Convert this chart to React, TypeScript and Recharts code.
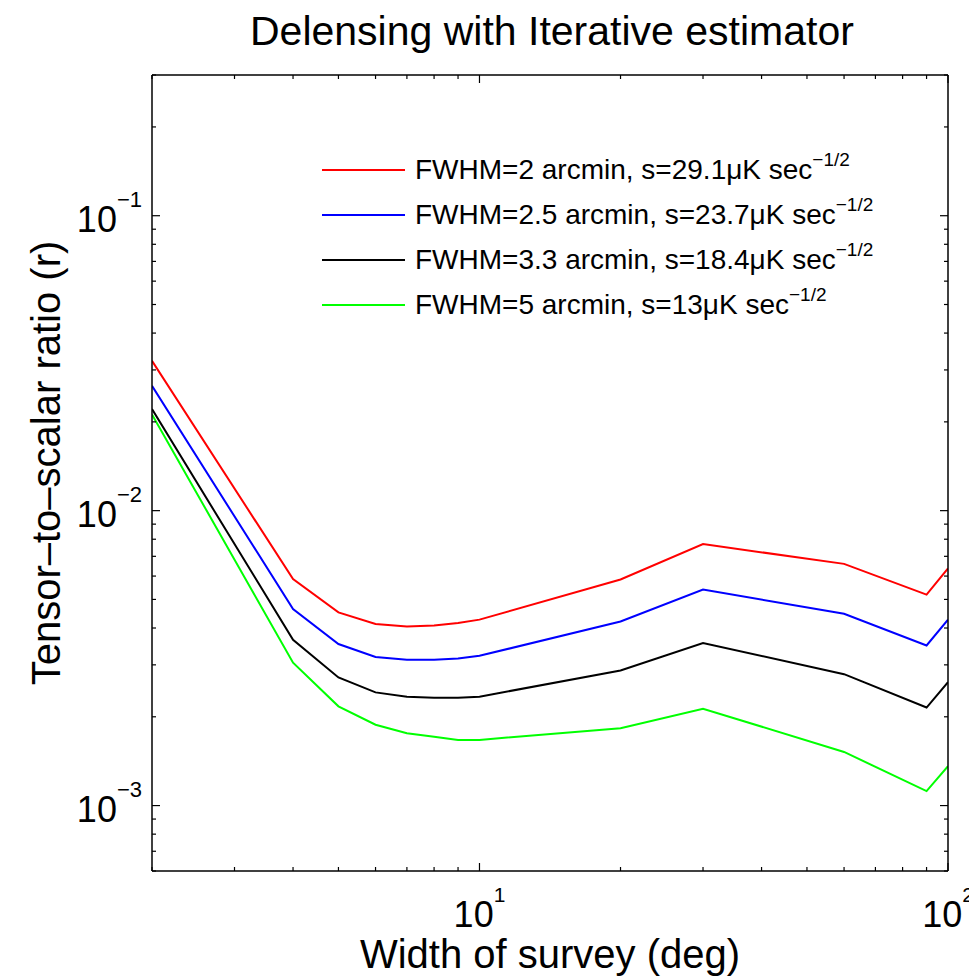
import React from "react";
import { LineChart, Line, XAxis, YAxis, Legend } from "recharts";

// survey width (deg) sampled by every curve
const surveyWidths = [2, 4, 5, 6, 7, 8, 9, 10, 20, 30, 60, 90, 100];

// tensor-to-scalar ratio
const rFwhm2 = [0.0322, 0.00586, 0.00452, 0.00413, 0.00405, 0.00408, 0.00416, 0.00427, 0.00584, 0.0077, 0.0066, 0.00519, 0.00637];
const rFwhm25 = [0.0265, 0.00464, 0.00353, 0.00319, 0.00312, 0.00312, 0.00315, 0.00322, 0.00421, 0.0054, 0.00447, 0.00349, 0.00427];
const rFwhm33 = [0.0221, 0.00365, 0.00272, 0.00242, 0.00234, 0.00232, 0.00232, 0.00234, 0.00287, 0.00356, 0.00279, 0.00215, 0.00262];
const rFwhm5 = [0.0212, 0.00305, 0.00217, 0.00188, 0.00176, 0.00171, 0.00167, 0.00167, 0.00183, 0.00213, 0.00152, 0.00112, 0.00136];

const seriesKeys = ["fwhm2", "fwhm25", "fwhm33", "fwhm5"];
const seriesColors = ["#ff0000", "#0000ff", "#000000", "#00ff00"];
const seriesLabels = [
  "FWHM=2 arcmin, s=29.1μK sec",
  "FWHM=2.5 arcmin, s=23.7μK sec",
  "FWHM=3.3 arcmin, s=18.4μK sec",
  "FWHM=5 arcmin, s=13μK sec",
];

const xTicks = [2, 3, 4, 5, 6, 7, 8, 9, 10, 20, 30, 40, 50, 60, 70, 80, 90, 100];
const xMajor = [10, 100];
const yTicks = [
  0.0006, 0.0007, 0.0008, 0.0009, 0.001, 0.002, 0.003, 0.004, 0.005, 0.006, 0.007, 0.008, 0.009,
  0.01, 0.02, 0.03, 0.04, 0.05, 0.06, 0.07, 0.08, 0.09, 0.1, 0.2, 0.3,
];
const yMajor = [0.001, 0.01, 0.1];

const rows = surveyWidths.map((w, i) => ({
  w,
  fwhm2: rFwhm2[i],
  fwhm25: rFwhm25[i],
  fwhm33: rFwhm33[i],
  fwhm5: rFwhm5[i],
}));

const FONT = '"Liberation Sans", Arial, Helvetica, sans-serif';

function expText(v: number) {
  const e = Math.round(Math.log10(v));
  return e < 0 ? `−${-e}` : `${e}`;
}

function BottomTick({ x, y, payload }: any) {
  const major = xMajor.includes(payload.value);
  return (
    <g>
      <line x1={x} y1={y} x2={x} y2={y - (major ? 8 : 4)} stroke="#000" strokeWidth={1.2} />
      {major && (
        <text x={x} y={y + 56} textAnchor="middle" fontSize={36} fontFamily={FONT} fill="#000">
          10
          <tspan dy={-25} fontSize={21}>
            {expText(payload.value)}
          </tspan>
        </text>
      )}
    </g>
  );
}

function TopTick({ x, y, payload }: any) {
  const major = xMajor.includes(payload.value);
  return <line x1={x} y1={y} x2={x} y2={y + (major ? 8 : 4)} stroke="#000" strokeWidth={1.2} />;
}

function LeftTick({ x, y, payload }: any) {
  const major = yMajor.includes(payload.value);
  return (
    <g>
      <line x1={x} y1={y} x2={x + (major ? 8 : 4)} y2={y} stroke="#000" strokeWidth={1.2} />
      {major && (
        <text x={x - 10} y={y + 16} textAnchor="end" fontSize={36} fontFamily={FONT} fill="#000">
          10
          <tspan dy={-25} fontSize={22}>
            {expText(payload.value)}
          </tspan>
        </text>
      )}
    </g>
  );
}

function RightTick({ x, y, payload }: any) {
  const major = yMajor.includes(payload.value);
  return <line x1={x} y1={y} x2={x - (major ? 8 : 4)} y2={y} stroke="#000" strokeWidth={1.2} />;
}

function LegendBox() {
  return (
    <div style={{ fontFamily: FONT, color: "#000" }}>
      {seriesLabels.map((label, i) => (
        <div key={label} style={{ display: "flex", alignItems: "center", height: 45 }}>
          <svg width={83} height={4} style={{ display: "block" }}>
            <line x1={0} y1={2} x2={83} y2={2} stroke={seriesColors[i]} strokeWidth={2} />
          </svg>
          <span style={{ marginLeft: 10, fontSize: 28, lineHeight: 1, whiteSpace: "nowrap" }}>
            {label}
            <span style={{ fontSize: 19, position: "relative", top: -13 }}>−1/2</span>
          </span>
        </div>
      ))}
    </div>
  );
}

const axisLine = { stroke: "#000", strokeWidth: 1.5 };

export default function App() {
  return (
    <div
      style={{
        position: "absolute",
        left: 0,
        top: 0,
        width: 969,
        height: 978,
        background: "#fff",
        fontFamily: FONT,
        overflow: "hidden",
      }}
    >
      <div
        style={{
          position: "absolute",
          left: 250,
          top: 11,
          width: 600,
          textAlign: "center",
          fontSize: 41,
          lineHeight: 1,
          whiteSpace: "nowrap",
        }}
      >
        Delensing with Iterative estimator
      </div>
      <div
        style={{
          position: "absolute",
          left: 250,
          top: 934,
          width: 600,
          textAlign: "center",
          fontSize: 40,
          lineHeight: 1,
          whiteSpace: "nowrap",
        }}
      >
        Width of survey (deg)
      </div>
      <div
        style={{
          position: "absolute",
          left: 46 - 300,
          top: 463 - 20,
          width: 600,
          height: 40,
          textAlign: "center",
          fontSize: 40,
          lineHeight: "40px",
          whiteSpace: "nowrap",
          transform: "rotate(-90deg)",
        }}
      >
        Tensor–to–scalar ratio (r)
      </div>
      <LineChart
        width={969}
        height={978}
        data={rows}
        margin={{ top: 74, right: 20, bottom: 47, left: 52 }}
      >
        <XAxis
          xAxisId="bottom"
          dataKey="w"
          type="number"
          scale="log"
          domain={[2, 100]}
          allowDataOverflow
          ticks={xTicks}
          interval={0}
          tickSize={0}
          tickMargin={0}
          tickLine={false}
          axisLine={axisLine}
          height={60}
          tick={<BottomTick />}
        />
        <XAxis
          xAxisId="top"
          orientation="top"
          dataKey="w"
          type="number"
          scale="log"
          domain={[2, 100]}
          allowDataOverflow
          ticks={xTicks}
          interval={0}
          tickSize={0}
          tickMargin={0}
          tickLine={false}
          axisLine={axisLine}
          height={1}
          tick={<TopTick />}
        />
        <YAxis
          yAxisId="left"
          type="number"
          scale="log"
          domain={[0.0006, 0.3]}
          allowDataOverflow
          ticks={yTicks}
          interval={0}
          tickSize={0}
          tickMargin={0}
          tickLine={false}
          axisLine={axisLine}
          width={100}
          tick={<LeftTick />}
        />
        <YAxis
          yAxisId="right"
          orientation="right"
          type="number"
          scale="log"
          domain={[0.0006, 0.3]}
          allowDataOverflow
          ticks={yTicks}
          interval={0}
          tickSize={0}
          tickMargin={0}
          tickLine={false}
          axisLine={axisLine}
          width={1}
          tick={<RightTick />}
        />
        {seriesKeys.map((key, i) => (
          <Line
            key={key}
            xAxisId="bottom"
            yAxisId="left"
            type="linear"
            dataKey={key}
            stroke={seriesColors[i]}
            strokeWidth={2}
            dot={false}
            isAnimationActive={false}
          />
        ))}
        <Legend
          layout="horizontal"
          verticalAlign="middle"
          align="center"
          wrapperStyle={{ left: 322, top: 147, width: 620, height: 180 }}
          content={() => <LegendBox />}
        />
      </LineChart>
    </div>
  );
}
